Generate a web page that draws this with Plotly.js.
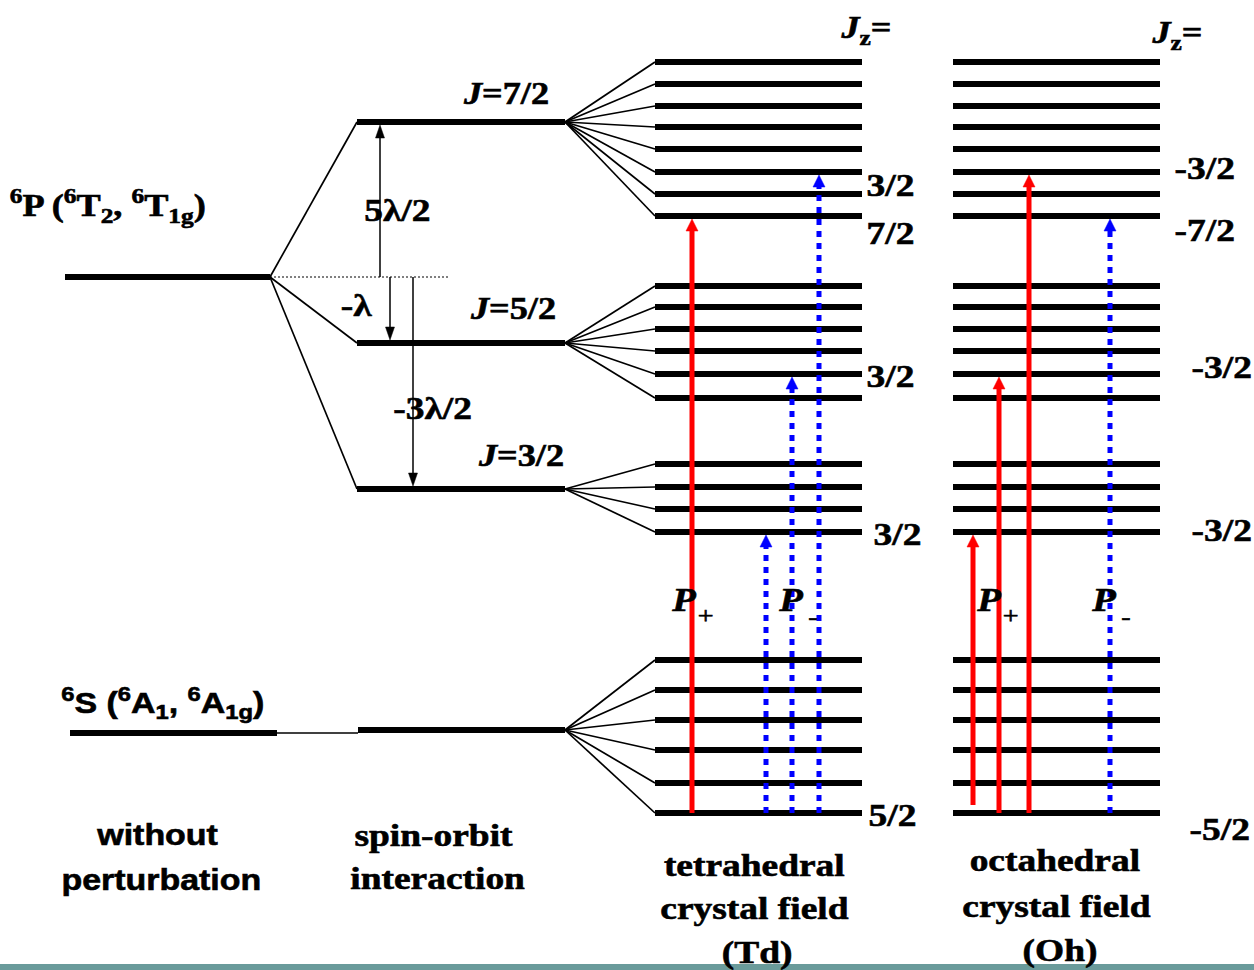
<!DOCTYPE html>
<html><head><meta charset="utf-8">
<script src="https://cdn.plot.ly/plotly-3.0.1.min.js"></script>
<style>html,body{margin:0;padding:0;background:#fff;overflow:hidden}#chart{width:1254px;height:970px}</style>
</head><body><div id="chart"></div>
<script>
// ---- data (energies on a downward pixel-like scale) ----
const termE = [277, 733];              // 6P, 6S without perturbation
const jLabels = ['J=7/2', 'J=5/2', 'J=3/2'];
const jE = [122, 343, 489];            // spin-orbit J levels of 6P
const groundSO = 730;                  // 6S after spin-orbit
const split72 = [62, 84, 106, 127, 149, 172, 194, 216];
const split52 = [286, 307, 329, 351, 374, 398];
const split32 = [464, 487, 509, 532];
const splitS = [660, 690, 720, 750, 783, 813];
const tdJzLabels = ['3/2', '7/2', '3/2', '3/2', '5/2'];
const ohJzLabels = ['-3/2', '-7/2', '-3/2', '-3/2', '-5/2'];
// transitions: column x, start level, end level
const tdPlusX = [692], tdPlusFrom = [813], tdPlusTo = [216];
const tdMinusX = [766, 792, 819], tdMinusFrom = [813, 813, 813], tdMinusTo = [532, 374, 172];
const ohPlusX = [973, 999, 1029], ohPlusFrom = [805, 813, 813], ohPlusTo = [532, 374, 172];
const ohMinusX = [1110], ohMinusFrom = [813], ohMinusTo = [216];

// ---- layout columns ----
const colUnp = [65, 270], colSO = [357, 565], colTd = [655, 862], colOh = [953, 1160];

const thick = {x: [], y: []}, thin = {x: [], y: []};
function seg(o, x0, y0, x1, y1) { o.x.push(x0, x1, null); o.y.push(y0, y1, null); }

seg(thick, colUnp[0], termE[0], colUnp[1], termE[0]);
seg(thick, colUnp[0] + 5, termE[1], colUnp[1] + 7, termE[1]);
jE.forEach(e => { seg(thick, colSO[0], e, colSO[1], e); seg(thin, colUnp[1], termE[0], colSO[0], e); });
seg(thick, colSO[0] + 1, groundSO, colSO[1], groundSO);
seg(thin, colUnp[1] + 7, termE[1], colSO[0] + 1, termE[1]);
const groups = [[split72, jE[0]], [split52, jE[1]], [split32, jE[2]], [splitS, groundSO]];
groups.forEach(([lv, src]) => {
  lv.forEach(e => {
    seg(thick, colTd[0], e, colTd[1], e);
    seg(thick, colOh[0], e, colOh[1], e);
    seg(thin, colSO[1], src, colTd[0], e);
  });
});

function tri(o, x, tip, dir, w, h) {
  o.x.push(x, x - w / 2, x + w / 2, x, null);
  o.y.push(tip, tip + dir * h, tip + dir * h, tip, null);
}
const red = {x: [], y: []}, redHead = {x: [], y: []};
const blue = {x: [], y: []}, blueHead = {x: [], y: []};
function addT(xs, fr, to, line, head) {
  xs.forEach((x, i) => {
    const tip = to[i] + 3;
    seg(line, x, fr[i], x, tip + 10);
    tri(head, x, tip, 1, 12, 12);
  });
}
addT(tdPlusX, tdPlusFrom, tdPlusTo, red, redHead);
addT(ohPlusX, ohPlusFrom, ohPlusTo, red, redHead);
addT(tdMinusX, tdMinusFrom, tdMinusTo, blue, blueHead);
addT(ohMinusX, ohMinusFrom, ohMinusTo, blue, blueHead);

const lam = {x: [], y: []}, lamHead = {x: [], y: []};
const lamX = [380, 390, 413], lamTo = [jE[0], jE[1], jE[2]];
lamX.forEach((x, i) => {
  const up = lamTo[i] < termE[0];
  const tip = lamTo[i] + (up ? 3 : -3);
  seg(lam, x, termE[0], x, tip + (up ? 12 : -12));
  tri(lamHead, x, tip, up ? 1 : -1, 9, 13);
});

const traces = [
  {x: [colUnp[1], 450], y: [termE[0], termE[0]], mode: 'lines', line: {color: '#000', width: 1, dash: '2px,2px'}},
  {x: thin.x, y: thin.y, mode: 'lines', line: {color: '#000', width: 1.7}},
  {x: thick.x, y: thick.y, mode: 'lines', line: {color: '#000', width: 6}},
  {x: lam.x, y: lam.y, mode: 'lines', line: {color: '#000', width: 1.5}},
  {x: lamHead.x, y: lamHead.y, mode: 'lines', fill: 'toself', fillcolor: '#000', line: {color: '#000', width: 0.5}},
  {x: red.x, y: red.y, mode: 'lines', line: {color: '#ff0000', width: 5}},
  {x: redHead.x, y: redHead.y, mode: 'lines', fill: 'toself', fillcolor: '#ff0000', line: {color: '#ff0000', width: 0.5}},
  {x: blue.x, y: blue.y, mode: 'lines', line: {color: '#0000ff', width: 5, dash: '6px,6px'}},
  {x: blueHead.x, y: blueHead.y, mode: 'lines', fill: 'toself', fillcolor: '#0000ff', line: {color: '#0000ff', width: 0.5}}
].map(t => Object.assign({hoverinfo: 'skip', showlegend: false, type: 'scatter'}, t));

const serif = 'Liberation Serif, Times New Roman, serif';
const sans = 'Liberation Sans, Arial, sans-serif';
function txt(text, x, y, size, fam) {
  return {text, x, y, xref: 'x', yref: 'y', showarrow: false, xanchor: 'center', yanchor: 'middle',
    font: {family: fam || serif, size: size || 32, color: '#000'}};
}
const ann = [
  txt('<b><sup>6</sup>P (<sup>6</sup>T<sub>2</sub>, <sup>6</sup>T<sub>1g</sub>)</b>', 108, 206, 31),
  txt('<b><sup>6</sup>S (<sup>6</sup>A<sub>1</sub>, <sup>6</sup>A<sub>1g</sub>)</b>', 163, 703, 29, sans),
  txt('<b>without</b>', 157, 835, 29, sans), txt('<b>perturbation</b>', 161, 880, 29, sans),
  txt('<b>spin-orbit</b>', 433, 835), txt('<b>interaction</b>', 438, 878),
  txt('<b>tetrahedral</b>', 754, 865), txt('<b>crystal field</b>', 754, 908), txt('<b>(Td)</b>', 757, 952),
  txt('<b>octahedral</b>', 1055, 860), txt('<b>crystal field</b>', 1056, 906), txt('<b>(Oh)</b>', 1060, 950),
  txt('<b>5λ/2</b>', 397, 210), txt('<b>-λ</b>', 356, 305), txt('<b>-3λ/2</b>', 432, 408),
  txt('<b><i>J</i><sub>z</sub>=</b>', 866, 30, 31), txt('<b><i>J</i><sub>z</sub>=</b>', 1177, 35, 31)
];
const jLabX = [506, 513, 521], jLabY = [93, 308, 455];
jLabels.forEach((l, i) => ann.push(txt('<b><i>J</i>' + l.slice(1) + '</b>', jLabX[i], jLabY[i], 31)));
const tdLabX = [890, 890, 890, 897, 892], tdLabY = [185, 233, 376, 534, 815];
tdJzLabels.forEach((l, i) => ann.push(txt('<b>' + l + '</b>', tdLabX[i], tdLabY[i], 32)));
const ohLabX = [1205, 1205, 1222, 1222, 1220], ohLabY = [168, 230, 367, 530, 829];
ohJzLabels.forEach((l, i) => ann.push(txt('<b>' + l + '</b>', ohLabX[i], ohLabY[i], 32)));
const pX = [684, 791, 989, 1104];
pX.forEach((x, i) => {
  ann.push(txt('<b><i>P</i></b>', x, 600, 33));
  ann.push(txt(i % 2 ? '-' : '+', x + 22, i % 2 ? 617 : 615, 24));
});

const layout = {
  width: 1254, height: 970, margin: {l: 0, r: 0, t: 0, b: 0},
  paper_bgcolor: '#fff', plot_bgcolor: '#fff',
  xaxis: {range: [0, 1254], visible: false, fixedrange: true},
  yaxis: {range: [970, 0], visible: false, fixedrange: true},
  annotations: ann,
  shapes: [{type: 'rect', xref: 'paper', yref: 'paper', x0: 0, x1: 1, y0: 0, y1: 6 / 970, fillcolor: '#6a9b9b', line: {width: 0}}]
};
const STRETCH = 1.17;
Plotly.newPlot('chart', traces, layout, {displayModeBar: false}).then(gd => {
  gd.querySelectorAll('text.annotation-text').forEach(t => {
    const b = t.getBBox();
    const cx = b.x + b.width / 2;
    t.setAttribute('transform', 'translate(' + (cx * (1 - STRETCH)) + ',0) scale(' + STRETCH + ',1)');
    t.style.stroke = '#000';
    t.style.strokeWidth = '0.6px';
  });
});
</script></body></html>
